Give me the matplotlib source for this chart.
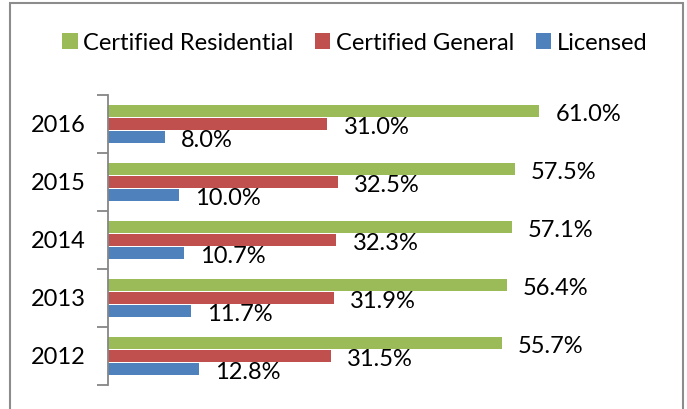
import matplotlib.pyplot as plt
import numpy as np
from matplotlib.patches import Rectangle

years = ["2012", "2013", "2014", "2015", "2016"]
residential = [55.7, 56.4, 57.1, 57.5, 61.0]
general = [31.5, 31.9, 32.3, 32.5, 31.0]
licensed = [12.8, 11.7, 10.7, 10.0, 8.0]

series = [
    ("Certified Residential", residential, "#9BBB59"),
    ("Certified General", general, "#C0504D"),
    ("Licensed", licensed, "#4F81BD"),
]

plt.rcParams['font.family'] = ['Lato', 'DejaVu Sans']

W, H = 687, 409
fig = plt.figure(figsize=(W / 100, H / 100), dpi=100)
ax = fig.add_axes([108 / W, (H - 385) / H, 495 / W, 290 / H])

y = np.arange(len(years))
h = 0.224
offsets = [h, 0, -h]

for (name, vals, color), off in zip(series, offsets):
    ax.barh(y + off, vals, height=h * 0.97, color=color, label=name)
    for yi, v in zip(y, vals):
        ax.text(v + 2.3, yi + off - 0.06, f"{v:.1f}%", va="center", ha="left",
                fontsize=17, color="black")

ax.set_xlim(0, 70)
ax.set_ylim(-0.5, 4.5)
ax.set_yticks(y)
ax.set_yticklabels(years, fontsize=17)
ax.set_yticks(np.arange(-0.5, 5, 1), minor=True)
ax.tick_params(axis="y", which="major", length=0, pad=16)
ax.tick_params(axis="y", which="minor", length=8, color="#868686", width=1.3)
ax.set_xticks([])
for s in ["top", "right", "bottom"]:
    ax.spines[s].set_visible(False)
ax.spines["left"].set_color("#868686")
ax.spines["left"].set_linewidth(1.3)

fig.legend(loc="center", bbox_to_anchor=(355 / W, (H - 43) / H), ncol=3,
           frameon=False, fontsize=17, handlelength=0.65, handleheight=0.65,
           handletextpad=0.25, columnspacing=0.9)

fig.add_artist(Rectangle((10 / W, -0.1), 673 / W, 1.1 - 3 / H,
                         transform=fig.transFigure, fill=False,
                         edgecolor="#8c8c8c", linewidth=1.5))

fig.savefig("out.png", dpi=100)
